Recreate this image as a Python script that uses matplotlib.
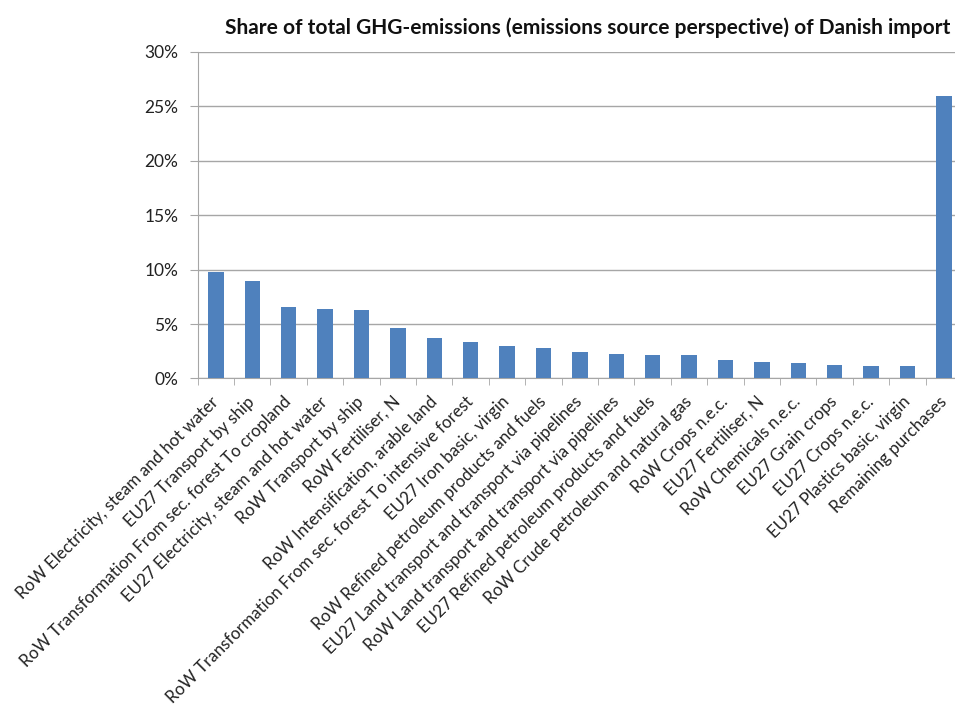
import matplotlib
matplotlib.use("Agg")
import matplotlib.pyplot as plt
from matplotlib.ticker import PercentFormatter, FixedLocator
import numpy as np

categories = [
    "RoW Electricity, steam and hot water",
    "EU27 Transport by ship",
    "RoW Transformation From sec. forest To cropland",
    "EU27 Electricity, steam and hot water",
    "RoW Transport by ship",
    "RoW Fertiliser, N",
    "RoW Intensification, arable land",
    "RoW Transformation From sec. forest To intensive forest",
    "EU27 Iron basic, virgin",
    "RoW Refined petroleum products and fuels",
    "EU27 Land transport and transport via pipelines",
    "RoW Land transport and transport via pipelines",
    "EU27 Refined petroleum products and fuels",
    "RoW Crude petroleum and natural gas",
    "RoW Crops n.e.c.",
    "EU27 Fertiliser, N",
    "RoW Chemicals n.e.c.",
    "EU27 Grain crops",
    "EU27 Crops n.e.c.",
    "EU27 Plastics basic, virgin",
    "Remaining purchases",
]
shares = [9.75, 8.95, 6.6, 6.37, 6.28, 4.62, 3.72, 3.32, 2.99, 2.82,
          2.42, 2.27, 2.18, 2.18, 1.68, 1.53, 1.4, 1.28, 1.18, 1.18, 25.96]

plt.rcParams['font.family'] = ['Lato', 'DejaVu Sans']

fig = plt.figure(figsize=(9.55, 7.04), dpi=100)
ax = fig.add_axes([0.207, 0.4624, 0.8004, 0.4638])

x = np.arange(len(categories))
ax.bar(x, shares, width=0.42, color="#4F81BD", zorder=3)

ax.set_xlim(-0.5, len(categories) - 0.5)
ax.set_ylim(0, 30)
ax.set_yticks(np.arange(0, 31, 5))
ax.yaxis.set_major_formatter(PercentFormatter(decimals=0))
ax.grid(axis="y", color="#a6a6a6", linewidth=1, zorder=0)

for s in ["top", "right"]:
    ax.spines[s].set_visible(False)
ax.spines["left"].set_color("#a6a6a6")
ax.spines["bottom"].set_color("#a6a6a6")

# labels at category centres, tick marks between categories
ax.set_xticks(x)
ax.set_xticklabels(categories, rotation=45, ha="right", va="center",
                   rotation_mode="anchor", fontsize=12.2, color="#222222")
ax.tick_params(axis="x", which="major", length=0, pad=15)
ax.xaxis.set_minor_locator(FixedLocator(np.arange(-0.5, len(categories), 1.0)))
ax.tick_params(axis="x", which="minor", length=5, color="#a6a6a6")
ax.tick_params(axis="y", length=6, color="#a6a6a6", pad=8,
               labelsize=12.5, labelcolor="#222222")

fig.text(0.995, 0.96, "Share of total GHG-emissions (emissions source perspective) of Danish import",
         ha="right", va="center", fontsize=15, fontweight="bold", color="#111111")

fig.savefig("out.png", dpi=100)
